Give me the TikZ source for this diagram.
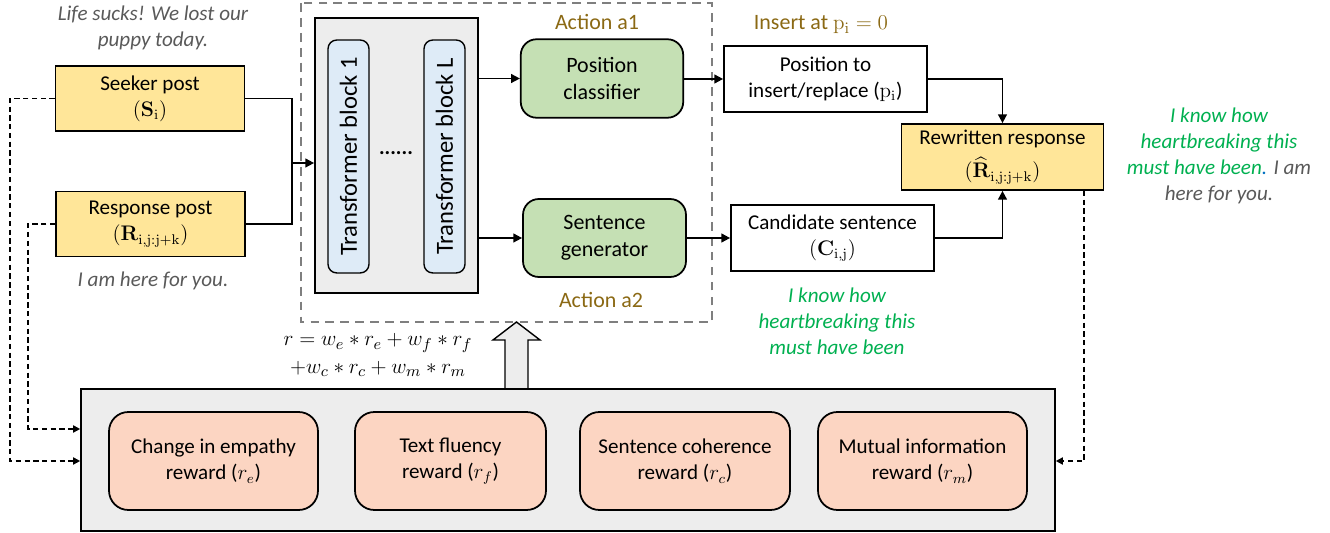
\documentclass[tikz,border=0pt]{standalone}
\usepackage{amsmath}
\usepackage[no-math]{fontspec}
\setmainfont{Carlito}
\usetikzlibrary{positioning, arrows.meta, calc}

\definecolor{postyellow}{HTML}{FFE699}
\definecolor{actgreen}{HTML}{C5E0B4}
\definecolor{blockblue}{HTML}{DEEBF7}
\definecolor{rewardpink}{HTML}{FCD5C2}
\definecolor{panelgray}{HTML}{EDEDED}
\definecolor{dashgray}{HTML}{7F7F7F}
\definecolor{actiongold}{HTML}{8B6914}
\definecolor{quotegreen}{HTML}{00B050}
\definecolor{quotegray}{HTML}{595959}
\definecolor{dotblue}{HTML}{0070C0}

\tikzset{
    postbox/.style={draw, line width=1pt, fill=postyellow, align=center, minimum width=3.78cm, minimum height=1.3cm, inner sep=1pt},
    outbox/.style={draw, line width=1pt, fill=white, align=center, minimum width=4.06cm, minimum height=1.32cm, inner sep=1pt},
    headbox/.style={draw, line width=1pt, rounded corners=9pt, fill=actgreen, align=center, minimum width=3.25cm, minimum height=1.57cm, font=\fontsize{12.5}{15.5}\selectfont},
    tblock/.style={draw, line width=0.8pt, rounded corners=5pt, fill=blockblue, rotate=90, minimum width=4.66cm, minimum height=0.82cm, font=\fontsize{14}{16}\selectfont},
    rewardbox/.style={draw, line width=1pt, rounded corners=11pt, fill=rewardpink, align=center, minimum height=1.96cm},
    panel/.style={draw, line width=1pt, fill=panelgray},
    quote/.style={font=\fontsize{12}{14.8}\selectfont\itshape, align=center},
    actlabel/.style={text=actiongold, font=\fontsize{12.5}{15}\selectfont},
    flow/.style={-{Triangle[length=5pt, width=5pt]}, line width=1pt},
    feedback/.style={-{Triangle[length=4pt, width=4pt]}, line width=0.9pt, dash pattern=on 3pt off 2pt}
}

\begin{document}
\begin{tikzpicture}[x=0.02cm, y=-0.02cm, font=\fontsize{12}{15}\selectfont]
    \useasboundingbox (0,0) rectangle (1330,533);

    % Inputs
    \node[quote, text=quotegray] (seekerquote) at (153,28) {Life sucks! We lost our\\puppy today.};
    \node[postbox] (seeker) at (150,98.5) {Seeker post\\$(\mathbf{S}_{\mathrm{i}})$};
    \node[postbox] (response) at (150.5,224) {Response post\\$(\mathbf{R}_{\mathrm{i,j:j+k}})$};
    \node[quote, text=quotegray] (responsequote) at (153,281) {I am here for you.};

    % Policy network
    \draw[dashgray, line width=1.2pt, dash pattern=on 5pt off 3.5pt] (301,3) rectangle (712,322);
    \node[panel, minimum width=3.26cm, minimum height=5.5cm] (encoder) at (396.5,155.5) {};
    \node[tblock] (block1) at (348.5,156.5) {Transformer block 1};
    \node[tblock] (blockL) at (444.5,156.5) {Transformer block L};
    \node[font=\bfseries\large] (dots) at (396,153) {......};
    \node[headbox] (poscls) at (602,78.5) {Position\\classifier};
    \node[headbox, minimum width=3.26cm, minimum height=1.56cm] (sengen) at (604.5,238) {Sentence\\generator};
    \node[actlabel] (acta1) at (597,22) {Action a1};
    \node[actlabel] (acta2) at (601,300) {Action a2};

    % Outputs
    \node[actlabel] (insertat) at (821,25) {Insert at $\mathrm{p_i} = 0$};
    \node[outbox] (posout) at (825.5,79) {Position to\\insert/replace ($\mathrm{p_i}$)};
    \node[outbox] (candidate) at (832.5,238) {Candidate sentence\\$(\mathbf{C}_{\mathrm{i,j}})$};
    \node[quote, text=quotegreen] (candquote) at (837,321) {I know how\\heartbreaking this\\must have been};
    \node[postbox, minimum width=4.04cm, minimum height=1.32cm] (rewritten) at (1002.5,157) {Rewritten response\\[4pt]$(\widehat{\mathbf{R}}_{\mathrm{i,j:j+k}})$};
    \node[quote] (rewrittenquote) at (1219,156) {\textcolor{quotegreen}{I know how}\\\textcolor{quotegreen}{heartbreaking this}\\\textcolor{quotegreen}{must have been}\textcolor{dotblue}{.} \textcolor{quotegray}{I am}\\\textcolor{quotegray}{here for you.}};

    % Rewards
    \node[panel, minimum width=19.48cm, minimum height=2.84cm] (rewards) at (568,460) {};
    \node[rewardbox, minimum width=4.18cm] (empathy) at (213.5,461) {Change in empathy\\reward ($r_e$)};
    \node[rewardbox, minimum width=3.82cm] (fluency) at (450.5,461) {Text fluency\\reward ($r_f$)};
    \node[rewardbox, minimum width=4.2cm] (coherence) at (685,461) {Sentence coherence\\reward ($r_c$)};
    \node[rewardbox, minimum width=4.18cm] (mutual) at (922.5,461) {Mutual information\\reward ($r_m$)};
    \node[font=\fontsize{13}{15.5}\selectfont, align=center] (total) at (378,355) {$r = w_e * r_e + w_f * r_f$\\$+w_c * r_c + w_m * r_m$};
    \draw[line width=0.8pt, fill=panelgray] (505,388) -- (505,340) -- (493,340) -- (516.5,322) -- (540,340) -- (528,340) -- (528,388);

    % Edges with arrows
    \coordinate (merge) at (292,163);
    \draw[line width=1pt] (seeker.east) -| (merge) |- (response.east);
    \draw[flow] (merge) -- (merge -| encoder.west);
    \draw[flow] (poscls.west -| encoder.east) -- (poscls.west);
    \draw[flow] (sengen.west -| encoder.east) -- (sengen.west);
    \draw[flow] (posout.west -| poscls.east) -- (posout.west);
    \draw[flow] (sengen.east) -- (sengen.east -| candidate.west);
    \draw[flow] (posout.east) -| (rewritten.north);
    \draw[flow] (candidate.east) -| (rewritten.south);

    % Dashed feedback into the rewards
    \coordinate (fbseeker) at (10,461);
    \coordinate (fbresponse) at (28,429);
    \coordinate (fbrewritten) at (1084,461);
    \draw[feedback] (seeker.west) -| (fbseeker) -- (fbseeker -| rewards.west);
    \draw[feedback] (response.west) -| (fbresponse) -- (fbresponse -| rewards.west);
    \draw[feedback] (rewritten.south -| fbrewritten) -- (fbrewritten) -- (fbrewritten -| rewards.east);
\end{tikzpicture}
\end{document}
